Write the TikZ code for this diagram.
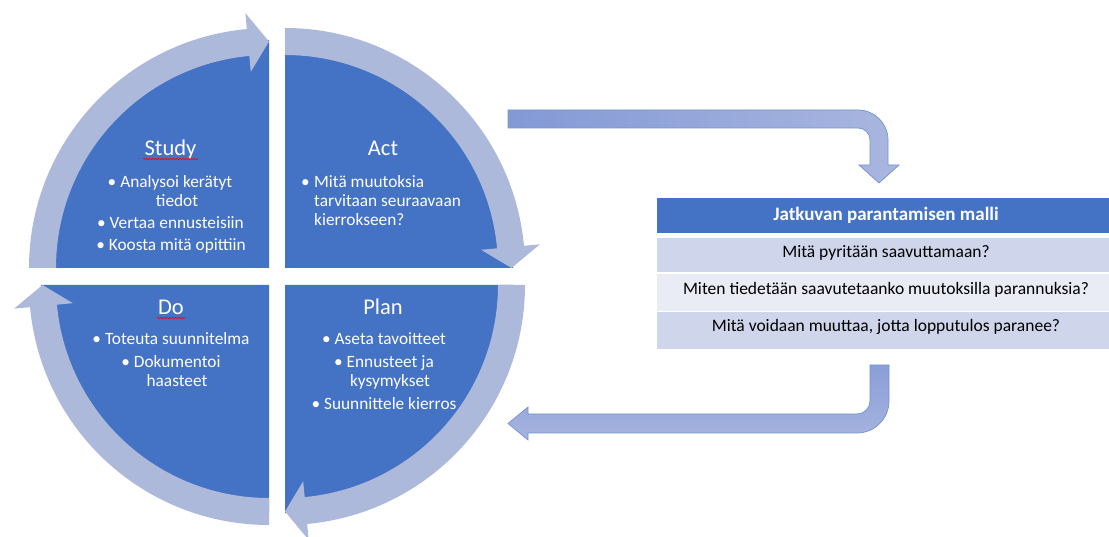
\documentclass[tikz,border=0pt]{standalone}
\usepackage{fontspec}
\setmainfont{Carlito}
\usetikzlibrary{calc,decorations.pathmorphing}
\definecolor{quadblue}{HTML}{4472C4}
\definecolor{ringblue}{HTML}{ADB9DB}
\definecolor{bandA}{HTML}{CFD5EA}
\definecolor{bandB}{HTML}{E9EBF5}
\definecolor{bentL}{HTML}{8399D6}
\definecolor{bentR}{HTML}{A9B6DF}
\definecolor{bentT}{HTML}{8A9ED7}
\definecolor{bentB}{HTML}{A6B4DE}
\definecolor{bentline}{HTML}{7493D3}

% curved cycle arrow around a quadrant: corner, start angle, tip angle
\newcommand\ringarrow[3]{%
  \fill[ring] ($(#1)+(#2:240)$) arc[start angle=#2, end angle=#3+5.3, radius=240]
    -- ($(#1)+(#3+5.3:256)$) -- ($(#1)+(#3:226.5)$) -- ($(#1)+(#3+5.3:197)$)
    -- ($(#1)+(#3+5.3:213)$) arc[start angle=#3+5.3, end angle=#2, radius=213] -- cycle;}

\begin{document}
\begin{tikzpicture}[x=1pt,y=1pt,
  quad/.style={fill=quadblue},
  ring/.style={fill=ringblue},
  ttl/.style={text=white,font=\fontsize{22.5}{26}\selectfont,anchor=base,inner sep=0pt},
  itm/.style={text=white,font=\fontsize{17.3}{20}\selectfont,anchor=base,inner sep=0pt},
  itml/.style={itm,anchor=base west},
  cell/.style={text=black,font=\fontsize{17.5}{20}\selectfont,anchor=base,inner sep=0pt},
  head/.style={text=white,font=\bfseries\fontsize{19}{22}\selectfont,anchor=base,inner sep=0pt},
  squig/.style={draw=red,line width=0.6pt,decorate,decoration={snake,amplitude=0.8pt,segment length=3pt}},
  bent/.style={draw=bentline,line width=0.7pt}
]
\useasboundingbox (0,0) rectangle (1109,536);
\clip (0,0) rectangle (1109,536);

% quadrant corners
\coordinate (cS) at (269,268);
\coordinate (cA) at (285,268);
\coordinate (cD) at (269,251);
\coordinate (cP) at (285,251);

% four quadrants
\fill[quad] (cS) -- ++(180:228) arc[start angle=180,end angle=90,radius=228] -- cycle;
\fill[quad] (cA) -- ++(90:228) arc[start angle=90,end angle=0,radius=228] -- cycle;
\fill[quad] (cP) -- ++(0:228) arc[start angle=0,end angle=-90,radius=228] -- cycle;
\fill[quad] (cD) -- ++(-90:228) arc[start angle=-90,end angle=-180,radius=228] -- cycle;

% cycle arrows
\ringarrow{cS}{180}{90}
\ringarrow{cA}{90}{0}
\ringarrow{cP}{0}{-90}
\ringarrow{cD}{-90}{-180}

% Study
\node[ttl] (study) at (170.5,380) {Study};
\draw[squig] (143,377) -- (198,377);
\node[itm] (st1) at (170,348) {• Analysoi kerätyt};
\node[itm] (st2) at (177,329) {tiedot};
\node[itm] (st3) at (170.5,307) {• Vertaa ennusteisiin};
\node[itm] (st4) at (171,285) {• Koosta mitä opittiin};

% Act
\node[ttl] (act) at (383,380) {Act};
\node[itml] (acb) at (301,348) {•};
\node[itml] (ac1) at (314,348) {Mitä muutoksia};
\node[itml] (ac2) at (314,329) {tarvitaan seuraavaan};
\node[itml] (ac3) at (314,310) {kierrokseen?};

% Do
\node[ttl] (do) at (171,221) {Do};
\draw[squig] (157,218) -- (185,218);
\node[itm] (do1) at (171,191) {• Toteuta suunnitelma};
\node[itm] (do2) at (171,168) {• Dokumentoi};
\node[itm] (do3) at (177,149) {haasteet};

% Plan
\node[ttl] (plan) at (383,221) {Plan};
\node[itm] (pl1) at (384,191) {• Aseta tavoitteet};
\node[itm] (pl2) at (384,168) {• Ennusteet ja};
\node[itm] (pl3) at (390,149) {kysymykset};
\node[itm] (pl4) at (384,126) {• Suunnittele kierros};

% bent arrow towards the model table
\path[bent, left color=bentL, right color=bentR]
  (508,426) -- (858,426) arc[start angle=90, end angle=0, radius=30]
  -- (888,371) -- (899,371) -- (879,353) -- (859,371) -- (870,371) -- (870,396)
  arc[start angle=0, end angle=90, radius=12] -- (508,408) -- cycle;

% bent arrow back to the cycle
\path[bent, top color=bentT, bottom color=bentB]
  (870,171) -- (889,171) -- (889,135) arc[start angle=0, end angle=-90, radius=32]
  -- (528,103) -- (528,96) -- (508,112.5) -- (528,129) -- (528,122) -- (857,122)
  arc[start angle=-90, end angle=0, radius=13] -- cycle;

% model table
\fill[quadblue] (657,303) rectangle (1115,338);
\fill[bandA] (657,263.5) rectangle (1115,298);
\fill[bandB] (657,225) rectangle (1115,262);
\fill[bandA] (657,187) rectangle (1115,223.5);
\node[head] (th) at (886,315) {Jatkuvan parantamisen malli};
\node[cell] (r1) at (886,278) {Mitä pyritään saavuttamaan?};
\node[cell] (r2) at (886,241) {Miten tiedetään saavutetaanko muutoksilla parannuksia?};
\node[cell] (r3) at (886,204) {Mitä voidaan muuttaa, jotta lopputulos paranee?};
\end{tikzpicture}
\end{document}
